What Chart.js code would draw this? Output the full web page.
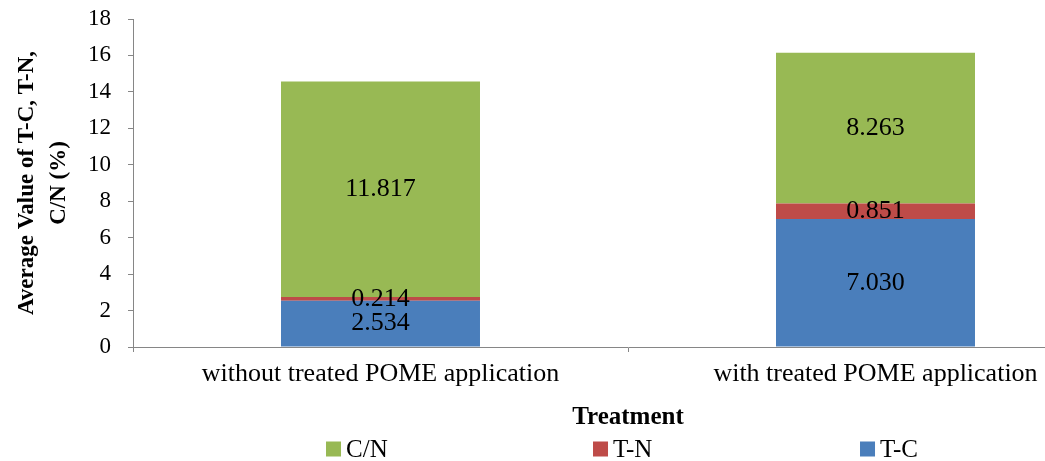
<!DOCTYPE html>
<html>
<head>
<meta charset="utf-8">
<script src="https://cdn.jsdelivr.net/npm/chart.js@4/dist/chart.umd.min.js"></script>
<style>
  html, body { margin: 0; padding: 0; background: #fff; overflow: hidden; }
  #wrap { width: 1130px; height: 461px; position: relative; }
</style>
</head>
<body>
<div id="wrap"><canvas id="c"></canvas></div>
<script>
const categories = ['without treated POME application', 'with treated POME application'];
const seriesNames = ['T-C', 'T-N', 'C/N'];
const tcValues = [2.534, 7.030];
const tnValues = [0.214, 0.851];
const cnValues = [11.817, 8.263];
const yTicks = [0, 2, 4, 6, 8, 10, 12, 14, 16, 18];
const seriesColors = ['#4a7ebb', '#be4b48', '#98b954'];

const serif = "'Liberation Serif', 'Times New Roman', serif";

const valueLabels = {
  id: 'valueLabels',
  afterDatasetsDraw(chart) {
    const ctx = chart.ctx;
    ctx.save();
    ctx.font = '26px ' + serif;
    ctx.fillStyle = '#000';
    ctx.textAlign = 'center';
    ctx.textBaseline = 'middle';
    chart.data.datasets.forEach((ds, di) => {
      const meta = chart.getDatasetMeta(di);
      meta.data.forEach((bar, i) => {
        const v = ds.data[i];
        const yMid = (bar.y + bar.base) / 2;
        ctx.fillText(v.toFixed(3), bar.x, yMid);
      });
    });
    ctx.restore();
  }
};

const customLegend = {
  id: 'customLegend',
  afterDraw(chart) {
    const ctx = chart.ctx;
    const area = chart.chartArea;
    const cx = (area.left + area.right) / 2;
    const y = 449;
    const step = 267;
    const box = 15;
    ctx.save();
    ctx.font = '25px ' + serif;
    ctx.textBaseline = 'middle';
    ctx.textAlign = 'left';
    const items = chart.data.datasets.map((d) => ({ label: d.label, color: d.backgroundColor })).reverse();
    const lastW = box + 5 + ctx.measureText(items[items.length - 1].label).width;
    const total = step * (items.length - 1) + lastW;
    let x = cx - total / 2 - 6;
    items.forEach((it) => {
      ctx.fillStyle = it.color;
      ctx.fillRect(x, y - box / 2, box, box);
      ctx.fillStyle = '#000';
      ctx.fillText(it.label, x + box + 5, y + 1);
      x += step;
    });
    ctx.restore();
  }
};

new Chart(document.getElementById('c'), {
  type: 'bar',
  data: {
    labels: categories,
    datasets: [
      { label: seriesNames[0], data: tcValues, backgroundColor: seriesColors[0] },
      { label: seriesNames[1], data: tnValues, backgroundColor: seriesColors[1] },
      { label: seriesNames[2], data: cnValues, backgroundColor: seriesColors[2] }
    ]
  },
  options: {
    responsive: true,
    maintainAspectRatio: false,
    animation: false,
    layout: { padding: { top: 19, right: 7, left: 0, bottom: 0 } },
    datasets: { bar: { categoryPercentage: 1.0, barPercentage: 0.402 } },
    plugins: {
      legend: { display: false },
      tooltip: { enabled: false }
    },
    scales: {
      x: {
        stacked: true,
        grid: { display: true, drawOnChartArea: false, drawTicks: true, tickLength: 5, color: '#868686', offset: true },
        border: { display: true, color: '#868686', width: 1 },
        ticks: { color: '#000', font: { family: serif, size: 26 }, padding: 7, maxRotation: 0 },
        title: {
          display: true,
          text: 'Treatment',
          color: '#000',
          font: { family: serif, size: 25, weight: 'bold' },
          padding: { top: 6, bottom: 28 }
        },
        afterFit(scale) { scale.height = 114; scale.paddingLeft = 0; scale.paddingRight = 0; }
      },
      y: {
        stacked: true,
        min: 0,
        max: 18,
        afterBuildTicks(scale) { scale.ticks = yTicks.map(v => ({ value: v })); },
        grid: { display: true, drawOnChartArea: false, drawTicks: true, tickLength: 5, color: '#868686' },
        border: { display: true, color: '#868686', width: 1 },
        ticks: { color: '#000', font: { family: serif, size: 23 }, padding: 17 },
        title: {
          display: true,
          text: ['Average Value of T-C, T-N,', 'C/N (%)'],
          color: '#000',
          font: { family: serif, size: 23, weight: 'bold', lineHeight: 1.35 },
          padding: { top: 12, bottom: 0 }
        },
        afterFit(scale) { scale.width = 133; scale.paddingTop = 0; scale.paddingBottom = 0; }
      }
    }
  },
  plugins: [valueLabels, customLegend]
});
</script>
</body>
</html>
